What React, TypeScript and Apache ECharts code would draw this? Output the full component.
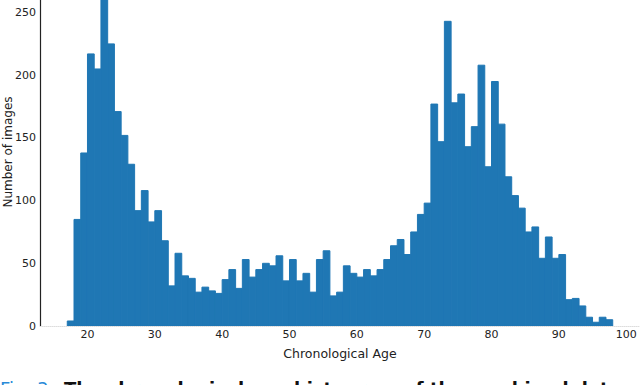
import React, { useEffect, useRef } from "react";
import * as echarts from "echarts";

// Histogram: bin start ages (1-year bins) and counts
const binStarts: number[] = [
  17, 18, 19, 20, 21, 22, 23, 24, 25, 26, 27, 28, 29, 30, 31, 32, 33, 34, 35, 36,
  37, 38, 39, 40, 41, 42, 43, 44, 45, 46, 47, 48, 49, 50, 51, 52, 53, 54, 55, 56,
  57, 58, 59, 60, 61, 62, 63, 64, 65, 66, 67, 68, 69, 70, 71, 72, 73, 74, 75, 76,
  77, 78, 79, 80, 81, 82, 83, 84, 85, 86, 87, 88, 89, 90, 91, 92, 93, 94, 95, 96, 97,
];
const counts: number[] = [
  4, 85, 138, 217, 205, 270, 225, 171, 152, 129, 92, 108, 83, 92, 68, 32, 58, 40, 38, 27,
  31, 28, 26, 37, 45, 30, 53, 39, 45, 50, 48, 56, 36, 53, 36, 42, 27, 53, 60, 24,
  27, 48, 42, 39, 45, 40, 45, 53, 64, 69, 57, 75, 89, 98, 177, 147, 243, 178, 185, 143,
  159, 208, 127, 195, 161, 119, 104, 94, 75, 79, 54, 71, 54, 57, 21, 22, 16, 7, 3, 7, 5,
];
const binWidth = 1;
const xTicks: number[] = [20, 30, 40, 50, 60, 70, 80, 90, 100];
const yTicks: number[] = [0, 50, 100, 150, 200, 250];
const xLabel = "Chronological Age";
const yLabel = "Number of images";
const captionPrefix = "Fig. 3.";
const captionText = "The chronological age histogram of the combined dataset";

export default function App() {
  const ref = useRef<HTMLDivElement>(null);
  useEffect(() => {
    if (!ref.current) return;
    const chart = echarts.init(ref.current, undefined, { renderer: "svg" });
    const data = binStarts.map((s, i) => [s, s + binWidth, counts[i]]);
    const font = "DejaVu Sans";
    chart.setOption({
      animation: false,
      grid: { left: 40, right: 0, top: 0, bottom: 59, containLabel: false },
      xAxis: {
        type: "value",
        min: 12.95,
        max: 102.05,
        splitLine: { show: false },
        axisTick: { show: false },
        axisLine: { show: true, lineStyle: { color: "#dddddd", type: "dotted", width: 1 } },
        axisLabel: {
          customValues: xTicks,
          color: "#222",
          fontFamily: font,
          fontSize: 11,
          margin: 3,
        },
        name: xLabel,
        nameLocation: "middle",
        nameGap: 21,
        nameTextStyle: { color: "#222", fontFamily: font, fontSize: 12.5 },
      },
      yAxis: {
        type: "value",
        min: 0,
        max: 260,
        splitLine: { show: false },
        axisTick: { show: false },
        axisLine: { show: true, lineStyle: { color: "#222", width: 1.2 } },
        axisLabel: {
          customValues: yTicks,
          color: "#222",
          fontFamily: font,
          fontSize: 11,
          margin: 4,
        },
      },
      series: [
        {
          type: "custom",
          clip: true,
          data,
          encode: { x: [0, 1], y: 2 },
          renderItem: (params: any, api: any) => {
            const x0 = api.value(0);
            const x1 = api.value(1);
            const v = api.value(2);
            const p0 = api.coord([x0, 0]);
            const p1 = api.coord([x1, v]);
            return {
              type: "rect",
              shape: { x: p0[0], y: p1[1], width: p1[0] - p0[0], height: p0[1] - p1[1] },
              style: { fill: "#1f77b4", stroke: "#1f77b4", lineWidth: 1 },
            };
          },
        },
      ],
      graphic: [
        {
          type: "text",
          x: 8,
          y: 152,
          rotation: Math.PI / 2,
          style: {
            text: yLabel,
            fill: "#222",
            font: `12px "${font}"`,
            align: "center",
            verticalAlign: "middle",
          },
        },
        {
          type: "text",
          x: 0,
          y: 379,
          style: {
            text: `{a|${captionPrefix}}   {b|${captionText}}`,
            rich: {
              a: { fill: "#2a8ad8", fontFamily: font, fontSize: 18 },
              b: { fill: "#111", fontFamily: font, fontSize: 18, fontWeight: "bold" },
            },
            verticalAlign: "top",
          },
        },
      ],
    });
    return () => chart.dispose();
  }, []);
  return (
    <div
      ref={ref}
      style={{ position: "fixed", left: 0, top: 0, width: 640, height: 385, background: "#fff" }}
    />
  );
}
